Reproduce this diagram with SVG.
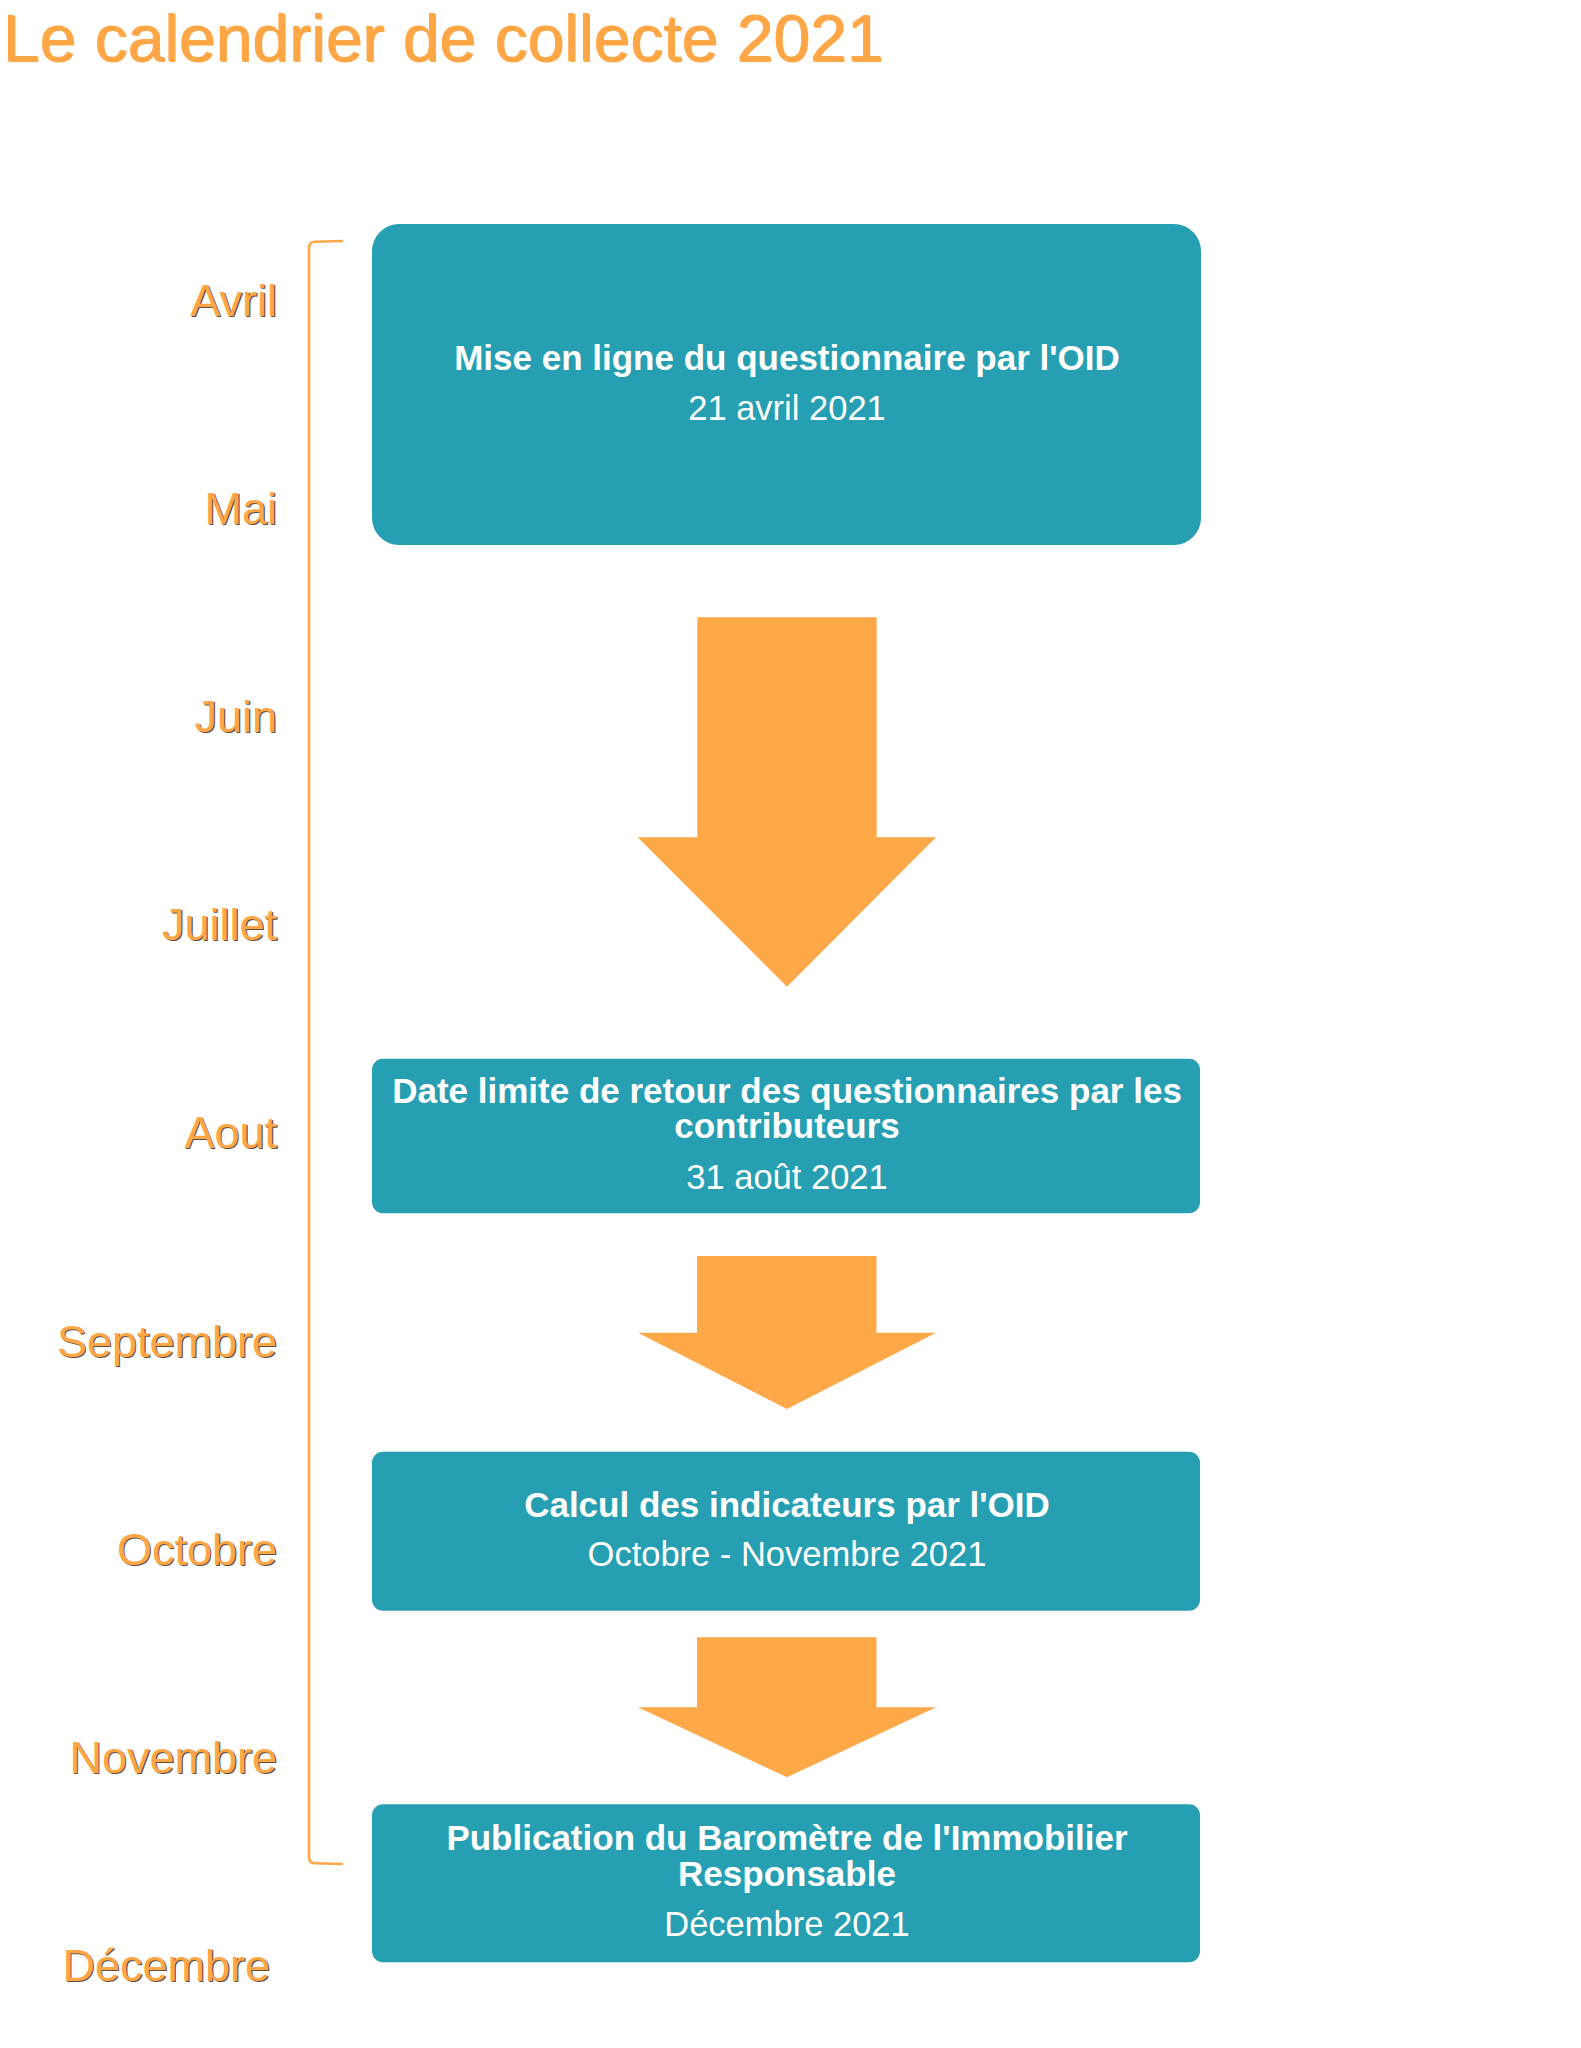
<svg xmlns="http://www.w3.org/2000/svg" width="1581" height="2048" viewBox="0 0 1581 2048">
<style>
  .box { fill: #279FB2; }
  .arrow { fill: #FFA848; }
  .bt { font-family: "Liberation Sans", Arial, sans-serif; font-size: 35px; font-weight: bold; fill: #FFFFFF; text-anchor: middle; }
  .rt { font-family: "Liberation Sans", Arial, sans-serif; font-size: 34.5px; fill: #FFFFFF; text-anchor: middle; }
  .month { font-family: "Liberation Sans", Arial, sans-serif; font-size: 45px; fill: #FFA646; text-anchor: end; }
  .shadow { fill: #5C5046; }
  .title { font-family: "Liberation Sans", Arial, sans-serif; font-size: 66px; fill: #FFA646; }
</style>
<rect width="1581" height="2048" fill="#FFFFFF"/>

<g id="title">
  <text class="title shadow" x="3.8" y="61.8">Le calendrier de collecte 2021</text>
  <text class="title" x="2.5" y="61">Le calendrier de collecte 2021</text>
</g>

<g id="months">
  <g class="shadow" style="font-family:'Liberation Sans',Arial,sans-serif;font-size:45px;text-anchor:end">
    <text x="278.2" y="316.5">Avril</text>
    <text x="278.2" y="524.7">Mai</text>
    <text x="278.2" y="732.9">Juin</text>
    <text x="278.2" y="941.1">Juillet</text>
    <text x="278.2" y="1149.3">Aout</text>
    <text x="278.2" y="1357.5">Septembre</text>
    <text x="278.2" y="1565.7">Octobre</text>
    <text x="278.2" y="1773.9">Novembre</text>
    <text x="271.2" y="1982.1">Décembre</text>
  </g>
  <text class="month" x="277" y="315.5">Avril</text>
  <text class="month" x="277" y="523.7">Mai</text>
  <text class="month" x="277" y="731.9">Juin</text>
  <text class="month" x="277" y="940.1">Juillet</text>
  <text class="month" x="277" y="1148.3">Aout</text>
  <text class="month" x="277" y="1356.5">Septembre</text>
  <text class="month" x="277" y="1564.7">Octobre</text>
  <text class="month" x="277" y="1772.9">Novembre</text>
  <text class="month" x="270" y="1981.1">Décembre</text>
</g>

<g id="bracket">
  <path d="M343,241 L315,241.8 Q309,242 309,248 L309,1857 Q309,1863 315,1863.2 L343,1864" fill="none" stroke="#FFA848" stroke-width="2.6"/>
</g>

<g id="connectors">
  <polygon class="arrow" points="697.3,617.3 876.7,617.3 876.7,837.3 936,837.3 787,986.7 637.7,837.3 697.3,837.3"/>
  <polygon class="arrow" points="697,1256 876.5,1256 876.5,1332.7 936,1332.7 787,1409 638,1332.7 697,1332.7"/>
  <polygon class="arrow" points="697,1637.3 876.5,1637.3 876.5,1707.3 936,1707.3 787,1777.3 638,1707.3 697,1707.3"/>
</g>

<g id="node1">
  <rect class="box" x="372" y="224" width="829" height="321" rx="27" ry="27"/>
  <text class="bt" x="787" y="370">Mise en ligne du questionnaire par l'OID</text>
  <text class="rt" x="787" y="420">21 avril 2021</text>
</g>

<g id="node2">
  <rect class="box" x="372" y="1058.7" width="828" height="154.6" rx="11" ry="11"/>
  <text class="bt" x="787" y="1102.7">Date limite de retour des questionnaires par les</text>
  <text class="bt" x="787" y="1138.3">contributeurs</text>
  <text class="rt" x="787" y="1189">31 août 2021</text>
</g>

<g id="node3">
  <rect class="box" x="372" y="1451.7" width="828" height="159" rx="11" ry="11"/>
  <text class="bt" x="787" y="1516.7">Calcul des indicateurs par l'OID</text>
  <text class="rt" x="787" y="1566">Octobre - Novembre 2021</text>
</g>

<g id="node4">
  <rect class="box" x="372" y="1804.3" width="828" height="158" rx="11" ry="11"/>
  <text class="bt" x="787" y="1850">Publication du Baromètre de l'Immobilier</text>
  <text class="bt" x="787" y="1886">Responsable</text>
  <text class="rt" x="787" y="1935.7">Décembre 2021</text>
</g>
</svg>
